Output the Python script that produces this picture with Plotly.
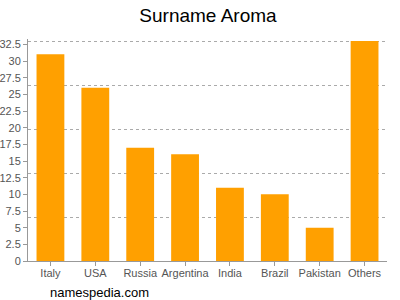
import plotly.graph_objects as go

categories = ["Italy", "USA", "Russia", "Argentina", "India", "Brazil", "Pakistan", "Others"]
values = [31, 26, 17, 16, 11, 10, 5, 33]
y_max = 33

fig = go.Figure()
fig.add_trace(go.Bar(x=categories, y=values, marker_color="#ffa000", marker_line_width=0, width=0.62,
                     hoverinfo="skip"))
# invisible helper trace for gridline axis
fig.add_trace(go.Scatter(x=categories, y=values, yaxis="y2", mode="markers", marker_opacity=0,
                         showlegend=False, hoverinfo="skip"))

axis_font = dict(family="Liberation Sans, Arial, sans-serif", size=11, color="#555555")
rng = [0, y_max + 0.3]
fig.update_layout(
    width=400, height=300,
    margin=dict(l=28, r=13, t=39, b=39),
    paper_bgcolor="white", plot_bgcolor="white",
    showlegend=False,
    title=dict(text="Surname Aroma", x=0.52, xanchor="center", y=0.95, yanchor="middle",
               font=dict(family="Liberation Sans, Arial, sans-serif", size=19, color="#000000")),
    xaxis=dict(showline=True, linecolor="#999999", linewidth=1, ticks="outside", ticklen=4,
               tickcolor="#999999", tickfont=axis_font, showgrid=False, automargin=False,
               ticklabelstandoff=-2),
    yaxis=dict(range=rng, dtick=2.5, tick0=0, showgrid=False, showline=True, linecolor="#999999",
               ticks="outside", ticklen=4, tickcolor="#999999", tickfont=axis_font, zeroline=False,
               automargin=False),
    yaxis2=dict(range=rng, overlaying="y", dtick=y_max / 5, tick0=0, showgrid=True,
                gridcolor="#aaaaaa", griddash="3px,3px", gridwidth=1, showticklabels=False,
                zeroline=False, showline=False, automargin=False),
    annotations=[dict(text="namespedia.com", xref="paper", yref="paper", x=0.055, y=-0.1,
                      xanchor="left", yanchor="top", showarrow=False,
                      font=dict(family="Liberation Sans, Arial, sans-serif", size=13, color="#000000"))],
)
fig.write_html("out.html")
